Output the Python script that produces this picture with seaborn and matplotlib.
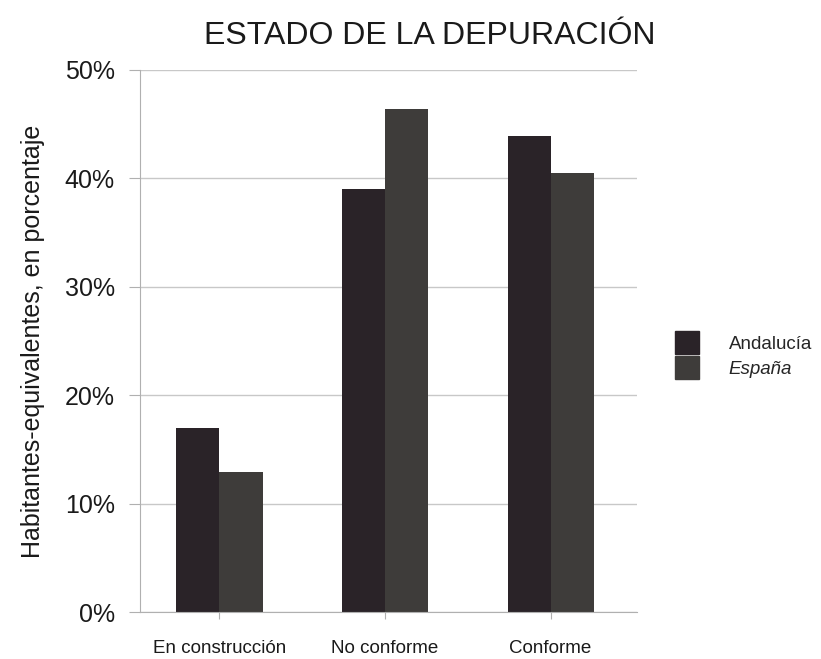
import pandas as pd
import matplotlib.pyplot as plt
import seaborn as sns
from matplotlib.ticker import PercentFormatter

# --- Data ---
categorias = ["En construcción", "No conforme", "Conforme"]
andalucia = [17.0, 39.0, 43.9]
espana = [12.9, 46.4, 40.5]
series = ["Andalucía", "España"]
colores = ["#2a2328", "#3e3c3a"]

df = pd.DataFrame({
    "categoria": categorias * 2,
    "valor": andalucia + espana,
    "serie": [series[0]] * 3 + [series[1]] * 3,
})

sns.set_style("white")
plt.rcParams["font.family"] = ["Liberation Sans", "DejaVu Sans"]

fig = plt.figure(figsize=(8.21, 6.59), dpi=100)
ax = fig.add_axes([0.1705, 0.0713, 0.605, 0.8225])

sns.barplot(
    data=df, x="categoria", y="valor", hue="serie",
    palette=colores, width=0.52, saturation=1, ax=ax, legend=False,
)
for p in ax.patches:
    p.set_edgecolor("none")

ax.set_ylim(0, 50)
ax.set_xlim(-0.48, 2.52)
ax.set_yticks([0, 10, 20, 30, 40, 50])
ax.yaxis.set_major_formatter(PercentFormatter(decimals=0))
ax.grid(axis="y", color="#c8c8c8", linewidth=1)
ax.set_axisbelow(True)
for s in ["top", "right"]:
    ax.spines[s].set_visible(False)
ax.spines["left"].set_color("#b0b0b0")
ax.spines["bottom"].set_color("#b0b0b0")
ax.tick_params(axis="y", labelsize=18, labelcolor="#1a1a1a", length=8,
               color="#b0b0b0", left=True, pad=10)
ax.tick_params(axis="x", labelsize=13.5, labelcolor="#1a1a1a", length=5,
               color="#b0b0b0", bottom=True, pad=15)

ax.set_xlabel("")
ax.set_ylabel("Habitantes-equivalentes, en porcentaje", fontsize=18,
              color="#1a1a1a", labelpad=14)
fig.text(0.524, 0.945, "ESTADO DE LA DEPURACIÓN", fontsize=23,
         color="#1a1a1a", ha="center", va="center")

# --- Legend ---
handles = [plt.Rectangle((0, 0), 1, 1, color=c) for c in colores]
leg = fig.legend(handles, series, loc="center left", bbox_to_anchor=(0.802, 0.461),
                 frameon=False, fontsize=13.5, handlelength=1.25, handleheight=1.5,
                 handletextpad=1.6, labelspacing=0.1)
leg.get_texts()[1].set_fontstyle("italic")

fig.savefig("out.png", dpi=100)
